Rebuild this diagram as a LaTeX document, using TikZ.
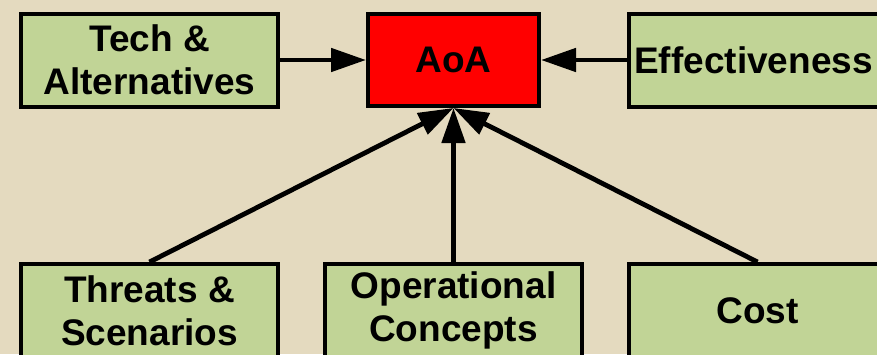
\documentclass[tikz,border=0pt]{standalone}
\usepackage{fontspec}
\setmainfont{Liberation Sans}
\usepackage{tikz}
\usetikzlibrary{arrows.meta}
\definecolor{bgbeige}{RGB}{228,218,191}
\definecolor{boxgreen}{RGB}{193,212,150}
\tikzstyle{block} = [rectangle, minimum width=257pt, minimum height=93pt, align=center, draw=black, line width=4pt, fill=boxgreen, font=\fontsize{37}{43}\selectfont\bfseries]
\tikzstyle{mainblock} = [block, minimum width=171pt, minimum height=92pt, fill=red]
\tikzstyle{arrow} = [line width=4.8pt,->,>={Triangle[length=35pt,width=23pt]}]

\begin{document}
\begin{tikzpicture}[node distance=304pt]
			\fill[bgbeige] (0,0) rectangle (877pt,-354pt);
			\useasboundingbox (0,0) rectangle (877pt,-354pt);
			\node(aoa)[mainblock] at (453.5pt,-60pt) {AoA};
			\node(tech)[block, left of=aoa]{Tech \&\\Alternatives};
			\node(eff)[block, right of=aoa]{Effectiveness\hspace*{8pt}};
			\node(ops)[block, below of=aoa, node distance=250.5pt]{Operational\\Concepts};
			\node(threats)[block, left of=ops]{Threats \&\\Scenarios};
			\node(cost)[block, right of=ops]{Cost};
			\draw [arrow] (tech) -- (aoa);
			\draw [arrow] (eff) -- (aoa);
			\draw [arrow] (threats.north) -- (aoa.south);
			\draw [arrow] (ops) -- (aoa);
			\draw [arrow] (cost.north) -- (aoa.south);
		\end{tikzpicture}
\end{document}
